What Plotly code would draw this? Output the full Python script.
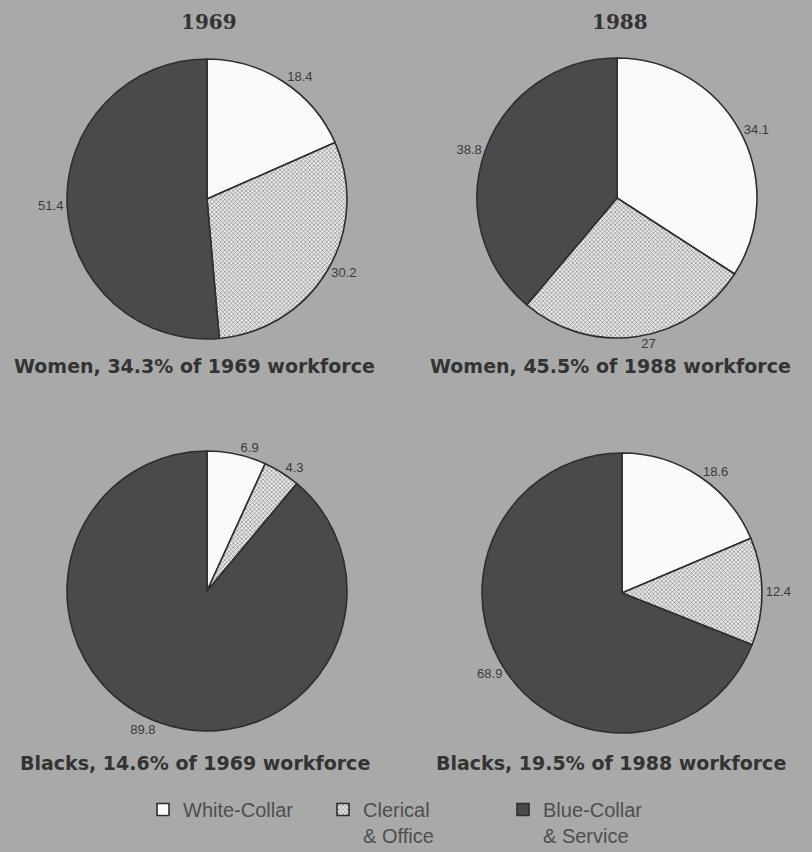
import plotly.graph_objects as go

categories = ["White-Collar", "Clerical<br>& Office", "Blue-Collar<br>& Service"]
women_1969 = [18.4, 30.2, 51.4]
women_1988 = [34.1, 27, 38.8]
blacks_1969 = [6.9, 4.3, 89.8]
blacks_1988 = [18.6, 12.4, 68.9]
years = ["1969", "1988"]
subtitles = [
    "Women, 34.3% of 1969 workforce",
    "Women, 45.5% of 1988 workforce",
    "Blacks, 14.6% of 1969 workforce",
    "Blacks, 19.5% of 1988 workforce",
]

W, H = 812, 852
BG = "#a9a9a9"
DARK = "#4a4a4a"

def dom(cx, cy, r):
    return dict(x=[(cx - r) / W, (cx + r) / W], y=[1 - (cy + r) / H, 1 - (cy - r) / H])

centers = [(207, 199), (617, 198), (207, 591), (622, 593)]
series = [women_1969, women_1988, blacks_1969, blacks_1988]

fig = go.Figure()
for i, (vals, (cx, cy)) in enumerate(zip(series, centers)):
    fig.add_trace(go.Pie(
        labels=categories,
        values=vals,
        sort=False,
        direction="clockwise",
        rotation=0,
        domain=dom(cx, cy, 140),
        textposition="outside",
        texttemplate="%{value}",
        textfont=dict(family="Liberation Sans", size=13, color="#3a3a3a"),
        marker=dict(
            colors=["#fafafa", "#dcdcdc", DARK],
            line=dict(color="#2e2e2e", width=1.6),
            pattern=dict(shape=["", "x", ""], fgcolor="#7a7a7a", bgcolor="#e8e8e8",
                         size=3, solidity=0.35),
        ),
        hoverinfo="label+value",
        showlegend=(i == 0),
        automargin=False,
    ))

annotations = []
for yr, cx in zip(years, [209, 620]):
    annotations.append(dict(text=f"<b>{yr}</b>", x=cx / W, y=1 - 22 / H, xref="paper", yref="paper",
                            showarrow=False, xanchor="center", yanchor="middle",
                            font=dict(family="DejaVu Serif", size=20, color="#333333")))
sub_pos = [(194, 366), (610, 366), (195, 763), (611, 763)]
for t, (x, y) in zip(subtitles, sub_pos):
    annotations.append(dict(text=f"<b>{t}</b>", x=x / W, y=1 - y / H, xref="paper", yref="paper",
                            showarrow=False, xanchor="center", yanchor="middle",
                            font=dict(family="DejaVu Sans", size=19, color="#333333")))

fig.update_layout(
    width=W, height=H,
    margin=dict(l=0, r=0, t=0, b=0, autoexpand=False),
    paper_bgcolor=BG, plot_bgcolor=BG,
    annotations=annotations,
    legend=dict(orientation="h", x=0.5 + 7 / W, xanchor="center", y=1 - 790 / H, yanchor="top",
                font=dict(family="Liberation Sans", size=20, color="#4e4e4e"),
                bgcolor="rgba(0,0,0,0)", itemwidth=30, valign="top",
                entrywidth=135, entrywidthmode="pixels", tracegroupgap=0),
)

fig.write_html("out.html")
